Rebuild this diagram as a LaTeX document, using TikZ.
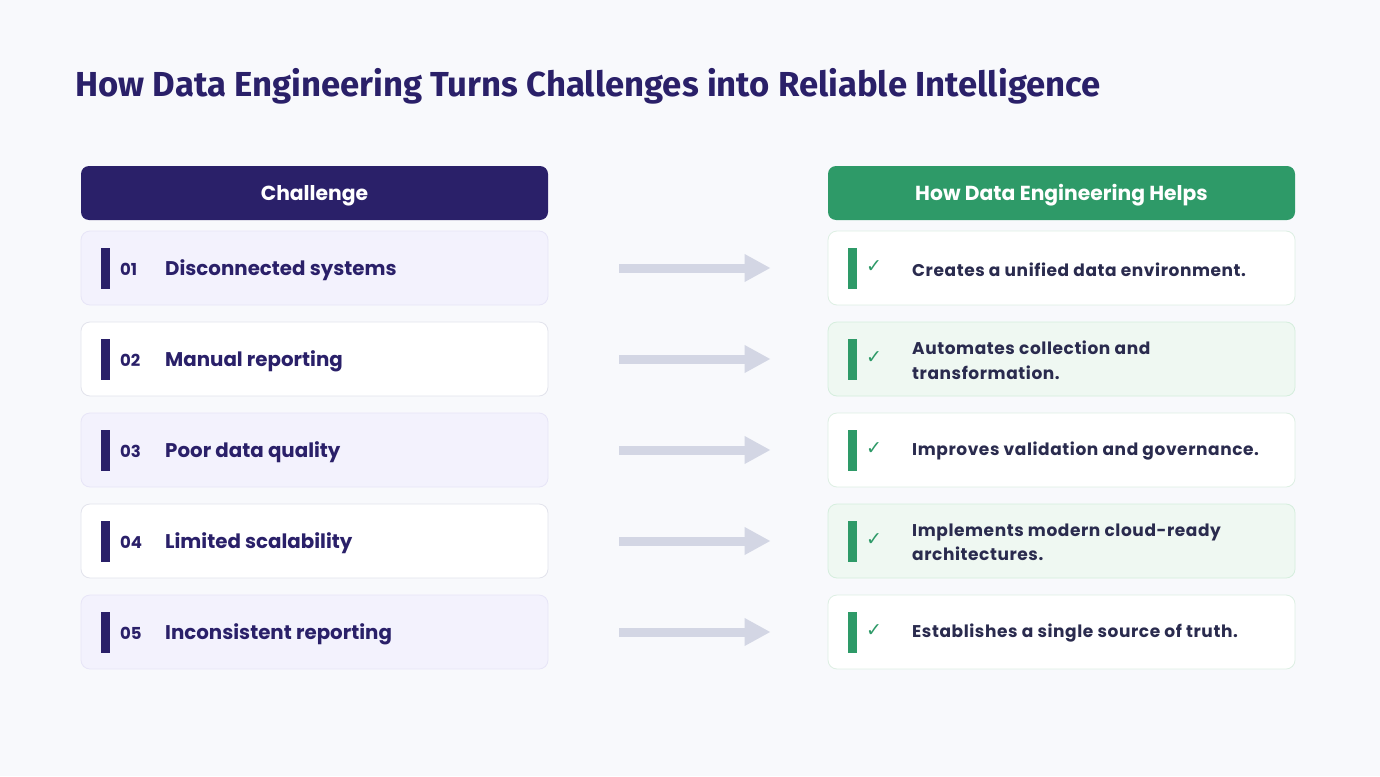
\documentclass[tikz,border=0pt]{standalone}
\usepackage{fontspec}
\setmainfont{Poppins}
\newfontfamily\titlefont{Fira Sans}
\newfontfamily\rfont{Poppins}[LetterSpace=3.4]
\newfontfamily\symfont{DejaVu Sans}
\usetikzlibrary{arrows.meta}
\definecolor{bgc}{HTML}{F8F9FC}
\definecolor{indigo}{HTML}{2A2069}
\definecolor{grn}{HTML}{2E9A68}
\definecolor{lav}{HTML}{F3F2FD}
\definecolor{lavb}{HTML}{E7E5F7}
\definecolor{whb}{HTML}{E2E3EC}
\definecolor{gfill}{HTML}{EFF8F2}
\definecolor{gb}{HTML}{D5EEDD}
\definecolor{gwb}{HTML}{DDEFE3}
\definecolor{arr}{HTML}{D3D6E4}
\definecolor{rtxt}{HTML}{2A2B4E}
\tikzset{
  hdr/.style={rounded corners=8pt, minimum width=467pt, minimum height=54pt, inner sep=0pt, text=white,
    font=\fontsize{20.3}{24}\selectfont\bfseries},
  rowbox/.style={rounded corners=9pt, minimum width=467pt, minimum height=74pt, inner sep=0pt, line width=0.8pt},
  lodd/.style={rowbox, fill=lav, draw=lavb},
  leven/.style={rowbox, fill=white, draw=whb},
  rodd/.style={rowbox, fill=white, draw=gwb},
  reven/.style={rowbox, fill=gfill, draw=gb},
  lbar/.style={minimum width=9pt, minimum height=41pt, inner sep=0pt, fill=indigo},
  gbar/.style={minimum width=9pt, minimum height=41pt, inner sep=0pt, fill=grn},
  num/.style={anchor=west, inner sep=0pt, text=indigo, font=\fontsize{16.5}{18}\selectfont\bfseries},
  lab/.style={anchor=west, inner sep=0pt, text=indigo, font=\fontsize{19.8}{22}\selectfont\bfseries},
  chk/.style={anchor=center, inner sep=0pt, text=grn, font=\symfont\fontsize{19}{21}\selectfont},
  rlab/.style={anchor=west, inner sep=0pt, text=rtxt, align=left, font=\rfont\fontsize{17}{24.5}\selectfont\bfseries},
  flow/.style={draw=arr, line width=9pt, -{Triangle[length=26pt,width=26pt]}, shorten <=71pt, shorten >=57pt}
}
\begin{document}
\begin{tikzpicture}[x=1pt,y=-1pt]
\fill[bgc] (0,0) rectangle (1380,776);
\useasboundingbox (0,0) rectangle (1380,776);
\node[anchor=base west, inner sep=0pt, text=indigo, font=\titlefont\fontsize{34.7}{40}\selectfont\bfseries] (title) at (75,96) {How Data Engineering Turns Challenges into Reliable Intelligence};
\node[hdr, fill=indigo] (hl) at (314.5,193) {};
\node[anchor=base, inner sep=0pt, text=white, font=\fontsize{20.3}{24}\selectfont\bfseries] (hlt) at (314.5,200) {Challenge};
\node[hdr, fill=grn] (hr) at (1061.5,193) {};
\node[anchor=base, inner sep=0pt, text=white, font=\fontsize{20.3}{24}\selectfont\bfseries] (hrt) at (1061.5,200) {How Data Engineering Helps};
% rows
\foreach \i/\y/\ls/\rs/\n/\t/\r in {
  1/268/lodd/rodd/01/Disconnected systems/Creates a unified data environment.,
  2/359/leven/reven/02/Manual reporting/{Automates collection and\\transformation.},
  3/450/lodd/rodd/03/Poor data quality/Improves validation and governance.,
  4/541/leven/reven/04/Limited scalability/{Implements modern cloud-ready\\architectures.},
  5/632/lodd/rodd/05/Inconsistent reporting/Establishes a single source of truth.}{
  \node[\ls] (l\i) at (314.5,\y) {};
  \node[\rs] (r\i) at (1061.5,\y) {};
  \node[lbar] (lb\i) at (105.5,\y) {};
  \node[num] (n\i) at (120,\y+1) {\n};
  \node[lab] (t\i) at (165,\y+2.5) {\t};
  \node[gbar] (gb\i) at (852.5,\y) {};
  \node[chk] (c\i) at (874,\y-1) {✓};
  \node[rlab] (x\i) at (912,\y+1.5) {\r};
  \draw[flow] (l\i) -- (r\i);
}
\end{tikzpicture}
\end{document}
